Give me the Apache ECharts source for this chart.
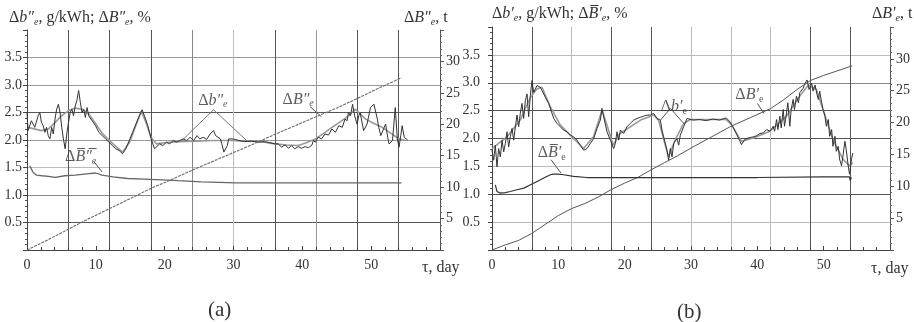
<!DOCTYPE html>
<html><head><meta charset="utf-8">
<script src="https://cdn.jsdelivr.net/npm/echarts@6.0.0/dist/echarts.min.js"></script>
<style>html,body{margin:0;padding:0;background:#fff}#c{width:914px;height:322px}</style>
</head><body><div id="c"></div>
<script>
// ---------- Panel (a) data ----------
const aRawDays = [0,0.15,0.64,1.13,1.62,1.86,2.1,2.35,2.6,2.84,3.09,3.33,3.58,3.82,4.07,4.31,4.56,4.8,5.05,5.29,5.54,5.78,6.03,6.27,6.52,6.76,7.01,7.25,7.5,7.75,7.99,8.24,8.48,8.73,8.97,9.46,9.95,10.44,10.93,11.42,11.91,12.4,12.89,13.38,13.87,14.36,14.85,15.34,15.83,16.32,16.72,17.06,17.55,18.04,18.28,18.53,18.77,19.26,19.75,20.25,20.74,21.23,21.72,22.2,22.7,23.2,23.7,24.2,24.7,25.1,25.6,26.1,26.6,27.1,27.4,27.6,28.1,28.3,28.6,28.8,29.1,29.3,29.8,30.3,30.8,31.6,32.6,33.6,34.5,35.3,36,36.5,37,37.5,38,38.4,38.9,39.4,39.9,40.4,40.9,41.4,41.6,41.9,42.3,42.8,43.3,43.8,44.3,44.8,45.3,45.8,46.2,46.5,46.7,47,47.3,47.6,47.95,48.2,48.4,48.9,49.4,49.9,50.4,50.9,51.1,51.4,51.9,52.1,52.4,52.6,53.1,53.5,53.8,54.05,54.3,54.5,54.8,55.3];
const aRawVals = [2.50,2.17,2.35,2.23,2.44,2.50,2.32,2.26,2.14,2.23,2.08,2.02,2.23,2.11,2.38,2.56,2.65,2.50,2.23,2.02,1.84,2.11,2.32,2.50,2.56,2.44,2.62,2.72,2.90,2.68,2.50,2.56,2.41,2.59,2.44,2.35,2.26,2.14,2.08,2.02,1.96,1.90,1.84,1.81,1.75,1.84,1.99,2.14,2.29,2.44,2.55,2.44,2.26,2.02,1.93,1.84,1.87,1.93,1.90,1.96,1.93,1.99,1.96,1.99,2.02,1.99,2.05,1.99,2.08,2.02,2.05,2.01,2.11,2.17,2.08,2.05,2.02,1.93,1.78,1.75,1.90,2.02,2.02,2.01,1.99,1.97,1.98,1.96,1.97,1.95,1.93,1.93,1.87,1.91,1.85,1.90,1.84,1.88,1.85,1.88,1.86,1.91,1.99,1.96,2.05,2.02,2.11,2.09,2.20,2.14,2.26,2.23,2.38,2.35,2.50,2.44,2.65,2.44,2.29,2.44,2.50,2.17,2.29,2.59,2.65,2.38,2.23,2.08,2.23,2.29,2.05,1.93,1.99,2.59,2.02,1.87,2.08,2.26,2.05,2.00];
const aSmoothDays = [0.15,2.1,3.1,4.1,5.0,6.0,7.0,8.0,9.0,10.0,11.0,12.0,13.0,13.9,14.9,15.8,16.6,17.3,18.0,18.8,20,22,24.7,27.1,29.6,31.7,34.1,36,37.7,39.4,40.6,41.9,43.1,44.3,45.6,46.7,47.7,49.2,50.4,51.6,53.0,54.0,55.0];
const aSmoothVals = [2.23,2.17,2.20,2.32,2.44,2.53,2.58,2.56,2.47,2.29,2.11,1.99,1.87,1.78,1.96,2.26,2.52,2.32,2.05,1.93,1.95,1.97,1.98,1.99,1.99,1.98,1.97,1.93,1.91,1.90,1.95,2.02,2.12,2.23,2.34,2.44,2.56,2.38,2.30,2.23,2.11,2.02,1.99];
const aCumDays = [0,3,6,9,12,15,18,21,24,27,30,33,36,39,42,45,48,51,54,54.4];
const aCumVals = [0,1.6,3.3,5.0,6.6,8.2,9.8,11.2,12.7,14.1,15.5,16.9,18.4,19.8,21.2,22.6,24.1,25.7,27.2,27.4];
const aAvgDays = [0.4,0.9,1.4,2.2,3.1,4.1,5.5,7.0,9.0,10.0,10.9,12.5,14.6,17,20.4,22,25.3,28,30.2,35,40,45,50,54.4];
const aAvgVals = [1.53,1.41,1.36,1.35,1.34,1.32,1.35,1.36,1.39,1.40,1.36,1.33,1.30,1.29,1.27,1.26,1.24,1.23,1.22,1.22,1.22,1.22,1.22,1.22];

// ---------- Panel (b) data ----------
const bRawDays = [0,0.25,0.5,0.75,1.0,1.26,1.51,1.76,2.01,2.26,2.51,2.76,3.02,3.27,3.52,3.77,4.02,4.27,4.52,4.77,5.03,5.28,5.53,5.78,6.03,6.28,6.53,6.78,7.04,7.29,7.54,8.04,8.54,9.05,9.30,9.80,10.30,10.80,11.31,11.81,12.31,12.81,13.32,13.82,14.32,14.82,15.33,15.83,16.33,16.58,16.83,17.34,17.84,18.34,18.59,18.84,19.10,19.35,19.85,20.35,20.85,21.36,21.86,22.36,22.86,23.37,23.87,24.37,24.87,25.38,25.63,25.88,26.38,26.63,26.88,27.14,27.39,27.89,28.14,28.39,28.89,29.40,30.3,31.3,32.3,33.3,34.3,35.3,35.8,36.4,36.9,37.4,37.6,38.1,38.6,39.4,39.9,40.4,40.9,41.4,41.9,42.4,42.6,42.9,43.1,43.4,43.6,43.9,44.1,44.4,44.6,44.9,45.1,45.4,45.6,45.9,46.2,46.4,46.9,47.2,47.5,47.8,48.2,48.4,48.7,49.0,49.2,49.4,49.7,49.9,50.2,50.4,50.7,50.9,51.2,51.4,51.7,51.9,52.2,52.4,52.7,52.9,53.2,53.4,53.7,53.9,54.2,54.4];
const bRawVals = [1.79,1.61,1.88,1.49,1.82,1.67,1.97,1.76,1.91,2.12,1.85,2.03,2.18,1.97,2.21,2.42,2.21,2.45,2.63,2.36,2.68,2.80,2.39,2.77,3.04,2.83,2.89,2.95,2.98,2.92,2.86,2.74,2.63,2.45,2.36,2.27,2.21,2.15,2.12,2.06,2.03,1.97,1.88,1.79,1.82,1.91,2.00,2.18,2.33,2.54,2.39,2.12,1.97,1.82,1.91,2.12,1.97,2.15,2.09,2.21,2.27,2.33,2.36,2.38,2.40,2.42,2.42,2.45,2.36,2.33,2.15,2.03,1.79,1.61,1.82,1.67,1.91,2.00,1.88,2.06,2.21,2.36,2.33,2.34,2.32,2.35,2.33,2.37,2.31,2.19,2.07,1.95,1.89,1.98,2.01,2.03,2.05,2.09,2.10,2.16,2.13,2.22,2.13,2.34,2.16,2.40,2.19,2.52,2.22,2.46,2.64,2.22,2.52,2.70,2.52,2.76,2.64,2.82,2.90,2.99,3.05,2.88,2.99,2.85,2.96,2.79,2.70,2.85,2.64,2.52,2.40,2.22,2.34,2.04,2.16,1.86,2.04,1.77,1.86,1.63,1.51,1.68,1.95,1.80,1.51,1.36,1.63,1.74];
const bSmoothDays = [0,2.26,4.27,5.78,6.78,7.54,8.79,10.3,12.3,13.8,15.3,16.6,18.3,19.3,22.4,24.4,25.1,26.6,27.6,28.9,29.9,35.3,36.1,37.6,39.4,41.9,44.4,46.4,47.7,48.9,49.9,51.4,52.9,53.9,54.4];
const bSmoothVals = [1.82,2.03,2.33,2.74,2.89,2.92,2.57,2.24,2.00,1.82,2.03,2.51,1.88,2.09,2.33,2.42,2.33,1.67,1.97,2.27,2.34,2.34,2.25,1.95,2.01,2.13,2.40,2.76,2.96,2.88,2.52,1.98,1.63,1.51,1.57];
const bCumDays = [0,2,4,6,8,10,12,14,16,18,20,22,24,26,28,30,33,36,39,42,44,46,48,50,52,54,54.3];
const bCumVals = [0,0.8,1.5,2.6,4.0,5.4,6.5,7.3,8.3,9.5,10.5,11.4,12.6,13.7,14.8,16.0,17.7,19.4,20.8,22.2,23.6,25.2,26.6,27.4,28.1,28.8,28.9];
const bAvgDays = [0.5,0.75,1.26,2.0,2.76,3.77,4.8,5.8,6.8,7.8,8.8,9.3,10.0,10.8,12.3,14.3,20,30,40,50,53.9,54.0,54.2];
const bAvgVals = [1.17,1.05,1.02,1.03,1.05,1.08,1.11,1.17,1.23,1.29,1.35,1.36,1.36,1.35,1.32,1.30,1.30,1.30,1.30,1.31,1.31,1.25,1.30];

// ---------- axis ticks ----------
const xLabelTicks = [0,10,20,30,40,50];
const leftTickLabels = ['0.5','1.0','1.5','2.0','2.5','3.0','3.5'];
const rightTickLabels = ['5','10','15','20','25','30'];

// ---------- annotations (data coords) ----------
const aLabelB_small = [27.0, 2.72];
const aLeader_small = [[22.5,1.99],[27.1,2.55],[32.0,1.98]];
const aLabelCum = [39.4, 2.73];
const aLeader_cum = [[41.1,2.61],[42.8,2.42]];
const aLabelAvg = [7.8, 1.69];
const aLeader_avg = [[9.7,1.61],[10.9,1.42]];
const bLabelB_small = [27.4, 2.56];
const bLeader_small = [[25.4,2.33],[26.9,2.54],[28.9,2.27]];
const bLabelCum = [38.8, 2.78];
const bLeader_cum = [[40.0,2.63],[41.0,2.45]];
const bLabelAvg = [9.0, 1.74];
const bLeader_avg = [[8.9,1.62],[10.4,1.38]];

const F = 'Liberation Serif';
const TXT = '#333';
const pairs = (d, v) => d.map((x, i) => [x, v[i]]);
const OV = '\u0305';

const base = {fontFamily: F, fontWeight: 'normal', color: TXT};
const rich = {
  n: {...base, fontSize: 16},
  i: {...base, fontSize: 16, fontStyle: 'italic'},
  s: {...base, fontSize: 10, fontStyle: 'italic', verticalAlign: 'bottom', padding: [8, 0, 0, 0]},
  su: {...base, fontSize: 10, verticalAlign: 'bottom', padding: [8, 0, 0, 0]}
};

function xAxes(gi, gridColors) {
  return [{
    gridIndex: gi, type: 'value', min: 0, max: 60, interval: 10,
    axisLine: {show: true, lineStyle: {color: '#444', width: 1}},
    axisTick: {show: true, length: 4, inside: true, lineStyle: {color: '#444'}},
    minorTick: {show: true, splitNumber: 5, length: 3, lineStyle: {color: '#444'}},
    splitLine: {show: false},
    axisLabel: {fontFamily: F, fontSize: 14, color: TXT, margin: 8,
      formatter: v => xLabelTicks.includes(v) ? String(v) : ''}
  }, {
    gridIndex: gi, type: 'value', min: 0, max: 60, interval: 6,
    axisLine: {show: false}, axisTick: {show: false}, axisLabel: {show: false},
    splitLine: {show: true, showMinLine: true, showMaxLine: true, lineStyle: {color: gridColors, width: 1}}
  }];
}
function yAxes(gi, gridColors, leftMargin) {
  return [{
    gridIndex: gi, type: 'value', min: 0, max: 4, interval: 0.5,
    axisLine: {show: true, lineStyle: {color: '#444', width: 1}},
    axisTick: {show: true, length: 4, lineStyle: {color: '#444'}},
    minorTick: {show: true, splitNumber: 5, length: 2, lineStyle: {color: '#555'}},
    splitLine: {show: true, showMinLine: true, showMaxLine: true, lineStyle: {color: gridColors, width: 1}},
    axisLabel: {fontFamily: F, fontSize: 14, color: TXT, margin: leftMargin,
      formatter: v => { const s = v.toFixed(1); return leftTickLabels.includes(s) ? s : ''; }}
  }, {
    gridIndex: gi, type: 'value', min: 0, max: 35, interval: 5, position: 'right',
    axisLine: {show: true, onZero: false, lineStyle: {color: '#555', width: 1}},
    axisTick: {show: true, length: 4, lineStyle: {color: '#555'}},
    minorTick: {show: true, splitNumber: 5, length: 2, lineStyle: {color: '#666'}},
    splitLine: {show: false},
    axisLabel: {fontFamily: F, fontSize: 14, color: TXT, margin: 6,
      formatter: v => rightTickLabels.includes(String(v)) ? String(v) : ''}
  }];
}

const T = 'rgba(0,0,0,0)';
const aXGrid = ['#555','#555','#555','#555','#888','#bbb','#555','#999','#555','#555','#555'];
const bXGrid = ['#555','#555','#bbb','#555','#555','#bbb','#bbb','#bbb','#555','#555','#555'];
const aYGrid = ['#555','#555','#888','#bbb','#999','#555','#999','#999',T];
const bYGrid = ['#555','#bbb','#555','#bbb','#555','#555','#888','#bbb',T];

function line(xi, yi, data, color, width, type, z) {
  return {type: 'line', xAxisIndex: xi, yAxisIndex: yi, data, showSymbol: false, symbol: 'none',
    silent: true, z: z || 2, lineStyle: {color, width, type: type || 'solid'}, animation: false};
}
function label(xi, yi, pos, text) {
  return {type: 'scatter', xAxisIndex: xi, yAxisIndex: yi, data: [pos], symbolSize: 1, silent: true,
    itemStyle: {color: T}, z: 5,
    label: {show: true, position: 'inside', formatter: text, rich}};
}
const titleStyle = {fontWeight: 'normal', fontFamily: F, rich};

const option = {
  animation: false,
  backgroundColor: '#fff',
  grid: [
    {left: 27, top: 30, width: 413, height: 220},
    {left: 492, top: 27, width: 398, height: 223}
  ],
  xAxis: [...xAxes(0, aXGrid), ...xAxes(1, bXGrid)],
  yAxis: [...yAxes(0, aYGrid, 5), ...yAxes(1, bYGrid, 12)],
  title: [
    {left: 4, top: 4, text: '{n|Δ}{i|b″}{s|e}{n|, g/kWh; Δ}{i|B″}{s|e}{n|, %}', textStyle: titleStyle},
    {left: 399, top: 4, text: '{n|Δ}{i|B″}{s|e}{n|, t}', textStyle: titleStyle},
    {left: 487, top: 0, text: '{n|Δ}{i|b′}{s|e}{n|, g/kWh; Δ}{i|B' + OV + '′}{s|e}{n|, %}', textStyle: titleStyle},
    {left: 867, top: 0, text: '{n|Δ}{i|B′}{s|e}{n|, t}', textStyle: titleStyle},
    {left: 417, top: 255, text: '{n|τ, day}', textStyle: titleStyle},
    {left: 866, top: 256, text: '{n|τ, day}', textStyle: titleStyle},
    {left: 203, top: 295, text: '(a)', textStyle: {fontFamily: F, fontSize: 21, fontWeight: 'normal', color: TXT}},
    {left: 672, top: 297, text: '(b)', textStyle: {fontFamily: F, fontSize: 21, fontWeight: 'normal', color: TXT}}
  ],
  series: [
    // panel (a)
    line(1, 0, pairs(aSmoothDays, aSmoothVals), '#9a9a9a', 1.6, 'solid', 2),
    line(1, 0, pairs(aRawDays, aRawVals), '#333', 1, 'solid', 3),
    line(1, 1, pairs(aCumDays, aCumVals), '#6a6a6a', 1.1, [3, 1], 3),
    line(1, 0, pairs(aAvgDays, aAvgVals), '#666', 1.3, 'solid', 3),
    line(1, 0, aLeader_small, '#777', 1),
    line(1, 0, aLeader_cum, '#555', 1),
    line(1, 0, aLeader_avg, '#555', 1),
    label(1, 0, aLabelB_small, '{n|Δ}{i|b″}{s|e}'),
    label(1, 0, aLabelCum, '{n|Δ}{i|B″}{s|e}'),
    label(1, 0, aLabelAvg, '{n|Δ}{i|B' + OV + '″' + OV + '}{s|e}'),
    // panel (b)
    line(3, 2, pairs(bSmoothDays, bSmoothVals), '#9a9a9a', 1.6, 'solid', 2),
    line(3, 2, pairs(bRawDays, bRawVals), '#333', 1, 'solid', 3),
    line(3, 3, pairs(bCumDays, bCumVals), '#555', 1, 'solid', 3),
    line(3, 2, pairs(bAvgDays, bAvgVals), '#333', 1.2, 'solid', 3),
    line(3, 2, bLeader_small, '#555', 1),
    line(3, 2, bLeader_cum, '#555', 1),
    line(3, 2, bLeader_avg, '#555', 1),
    label(3, 2, bLabelB_small, '{n|Δ}{i|b′}{su|e}'),
    label(3, 2, bLabelCum, '{n|Δ}{i|B′}{su|e}'),
    label(3, 2, bLabelAvg, '{n|Δ}{i|B' + OV + '′}{su|e}')
  ]
};
const chart = echarts.init(document.getElementById('c'), null, {renderer: 'canvas'});
chart.setOption(option);
</script></body></html>
